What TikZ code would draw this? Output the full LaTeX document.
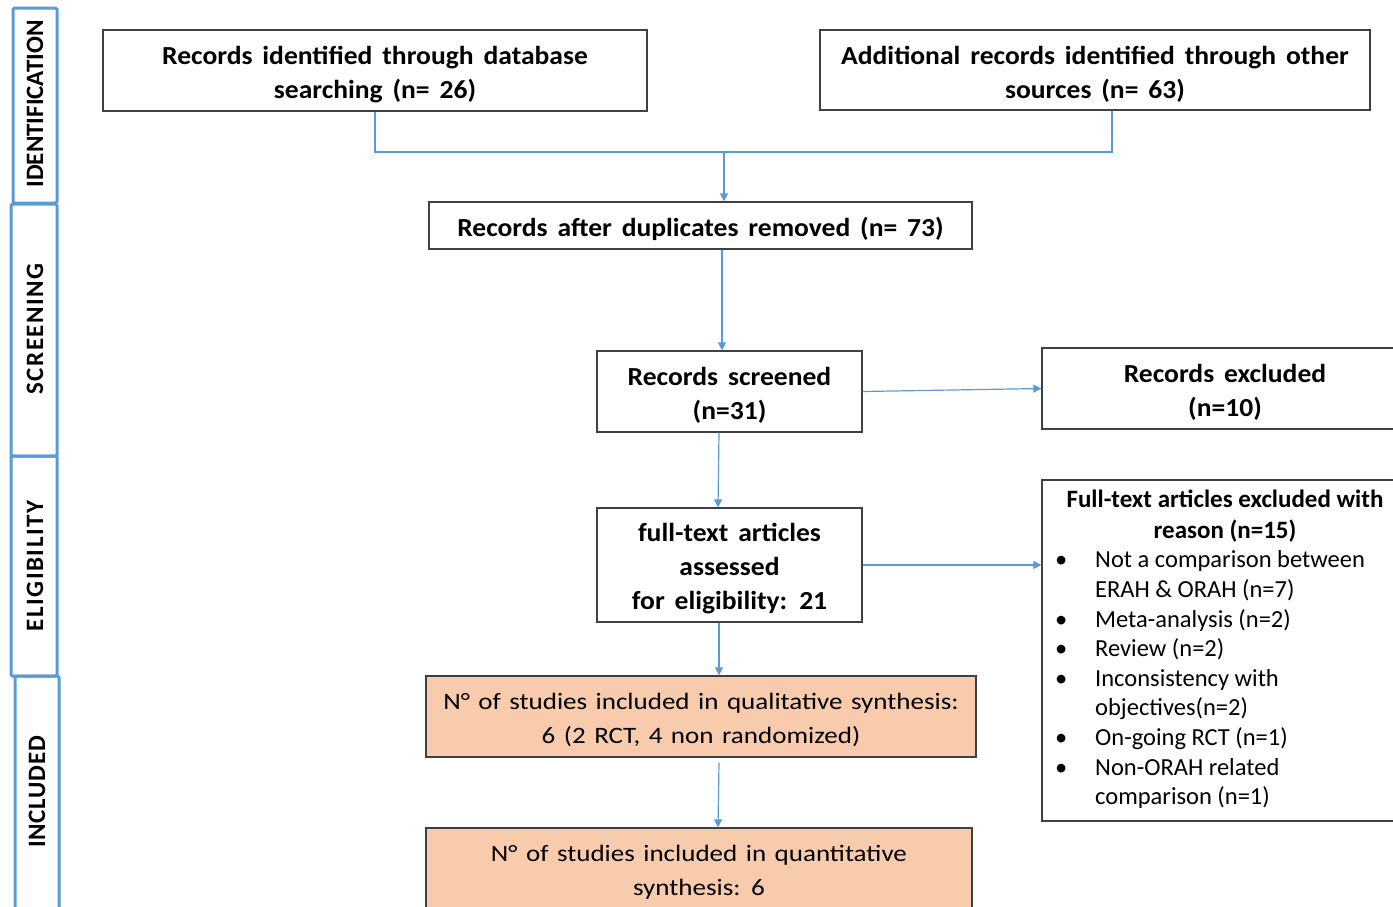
\documentclass[tikz,border=0pt]{standalone}
\usepackage{fontspec}
\setmainfont{Carlito}
\newfontfamily\regwide[FakeStretch=1.15]{Carlito}
\newfontfamily\boldwide[FakeStretch=1.06]{Carlito}
\newcommand\myboldfont{\boldwide\fontsize{26}{34}\selectfont\bfseries\spaceskip=0.38em\relax}
\newcommand\myregfont{\regwide\fontsize{23.5}{34}\selectfont\spaceskip=0.36em\relax}
\newcommand\dn{\rule{0pt}{26pt}}
\newcommand\dr{\rule{0pt}{23pt}}
\usetikzlibrary{arrows.meta}
\definecolor{pblue}{HTML}{5B9BD5}
\definecolor{peach}{HTML}{F8CBAD}
\tikzset{
 box/.style={draw=black!75, line width=1.3pt, inner sep=0pt, align=center},
 btext/.style={font=\myboldfont},
 rtext/.style={font=\myregfont},
 conn/.style={draw=pblue, line width=1.2pt},
 arr/.style={conn, -{Triangle[length=8pt,width=8pt]}},
 side/.style={draw=pblue, line width=3pt, rounded corners=1.5pt},
 sidelabel/.style={rotate=90, font=\fontsize{25}{28}\selectfont\bfseries},
 ltitle/.style={font=\fontsize{25}{31}\selectfont\bfseries, inner sep=0pt, anchor=base},
 litem/.style={font=\fontsize{24.5}{30}\selectfont, inner sep=0pt, anchor=base west},
}
\begin{document}
\begin{tikzpicture}[x=1pt,y=-1pt]
\useasboundingbox (0,0) rectangle (1393,906);
% side bars
\draw[side] (13,8) rectangle (57,203);
\draw[side] (11,204) rectangle (57,456);
\draw[side] (11,456) rectangle (57,676);
\draw[side] (15,676) rectangle (59,920);
\node[sidelabel] (sid) at (35,104) {IDENTIFICATION};
\node[sidelabel] (ssc) at (35,329) {\addfontfeature{LetterSpace=6}SCREENING};
\node[sidelabel] (sel) at (35,566) {\addfontfeature{LetterSpace=6}ELIGIBILITY};
\node[sidelabel] (sin) at (37,792) {\addfontfeature{LetterSpace=3}INCLUDED};
% boxes
\node[box, btext, minimum width=544pt, minimum height=81pt] (b1) at (375,70.5) {\dn Records identified through database\\ searching (n= 26)};
\node[box, btext, minimum width=550pt, minimum height=80pt] (b2) at (1095,70) {\dn Additional records identified through other\\ sources (n= 63)};
\node[box, btext, minimum width=543pt, minimum height=47pt] (b3) at (700.5,225.5) {\dn Records after duplicates removed (n= 73)};
\node[box, btext, minimum width=265pt, minimum height=81pt] (b4) at (729.5,391.5) {\dn Records screened\\ (n=31)};
\node[box, btext, minimum width=366pt, minimum height=81pt] (b5) at (1225,388.5) {\dn Records excluded\\ (n=10)};
\node[box, btext, minimum width=265pt, minimum height=114pt] (b6) at (729.5,565) {\dn full-text articles\\ assessed\\ for eligibility: 21};
\node[box, minimum width=366pt, minimum height=341pt] (b7) at (1225,650.5) {};
\node[box, rtext, fill=peach, minimum width=550pt, minimum height=81pt] (b8) at (701,716.5) {\dr N° of studies included in qualitative synthesis:\\ 6 (2 RCT, 4 non randomized)};
\node[box, rtext, fill=peach, minimum width=546pt, minimum height=82pt] (b9) at (699,869) {\dr N° of studies included in quantitative\\ synthesis: 6};
% exclusion list
\node[ltitle] (t1) at (1225,507) {Full-text articles excluded with};
\node[ltitle] (t2) at (1225,538) {reason (n=15)};
\foreach \n/\y/\b/\t in {i1/567/1/Not a comparison between, i2/597/0/ERAH \& ORAH (n=7), i3/627/1/Meta-analysis (n=2), i4/656/1/Review (n=2), i5/686/1/Inconsistency with, i6/715/0/objectives(n=2), i7/745/1/On-going RCT (n=1), i8/775/1/Non-ORAH related, i9/804/0/comparison (n=1)}{
  \node[litem] (\n) at (1095,\y) {\t};
  \ifnum\b=1 \node[litem] (\n b) at (1055,\y) {\textbullet}; \fi
}
% connectors
\coordinate (j) at (724,152);
\draw[conn] (b1.south) -- (b1.south |- j) -- ([xshift=17pt]b2.south |- j) -- ([xshift=17pt]b2.south);
\draw[arr] (j) -- (j |- b3.north);
\draw[arr] ([xshift=21.5pt]b3.south) -- ([xshift=-7.5pt]b4.north);
\draw[arr] (b4.east) -- (b5.west);
\draw[arr] ([xshift=-10.5pt]b4.south) -- ([xshift=-11.5pt]b6.north);
\draw[arr] (b6.east) -- (b6.east -| b7.west);
\draw[arr] ([xshift=-10.5pt]b6.south) -- ([xshift=-10.5pt]b6.south |- b8.north);
\draw[arr] ([xshift=18pt,yshift=-5pt]b8.south) -- ([xshift=19pt]b9.north);
\end{tikzpicture}
\end{document}
